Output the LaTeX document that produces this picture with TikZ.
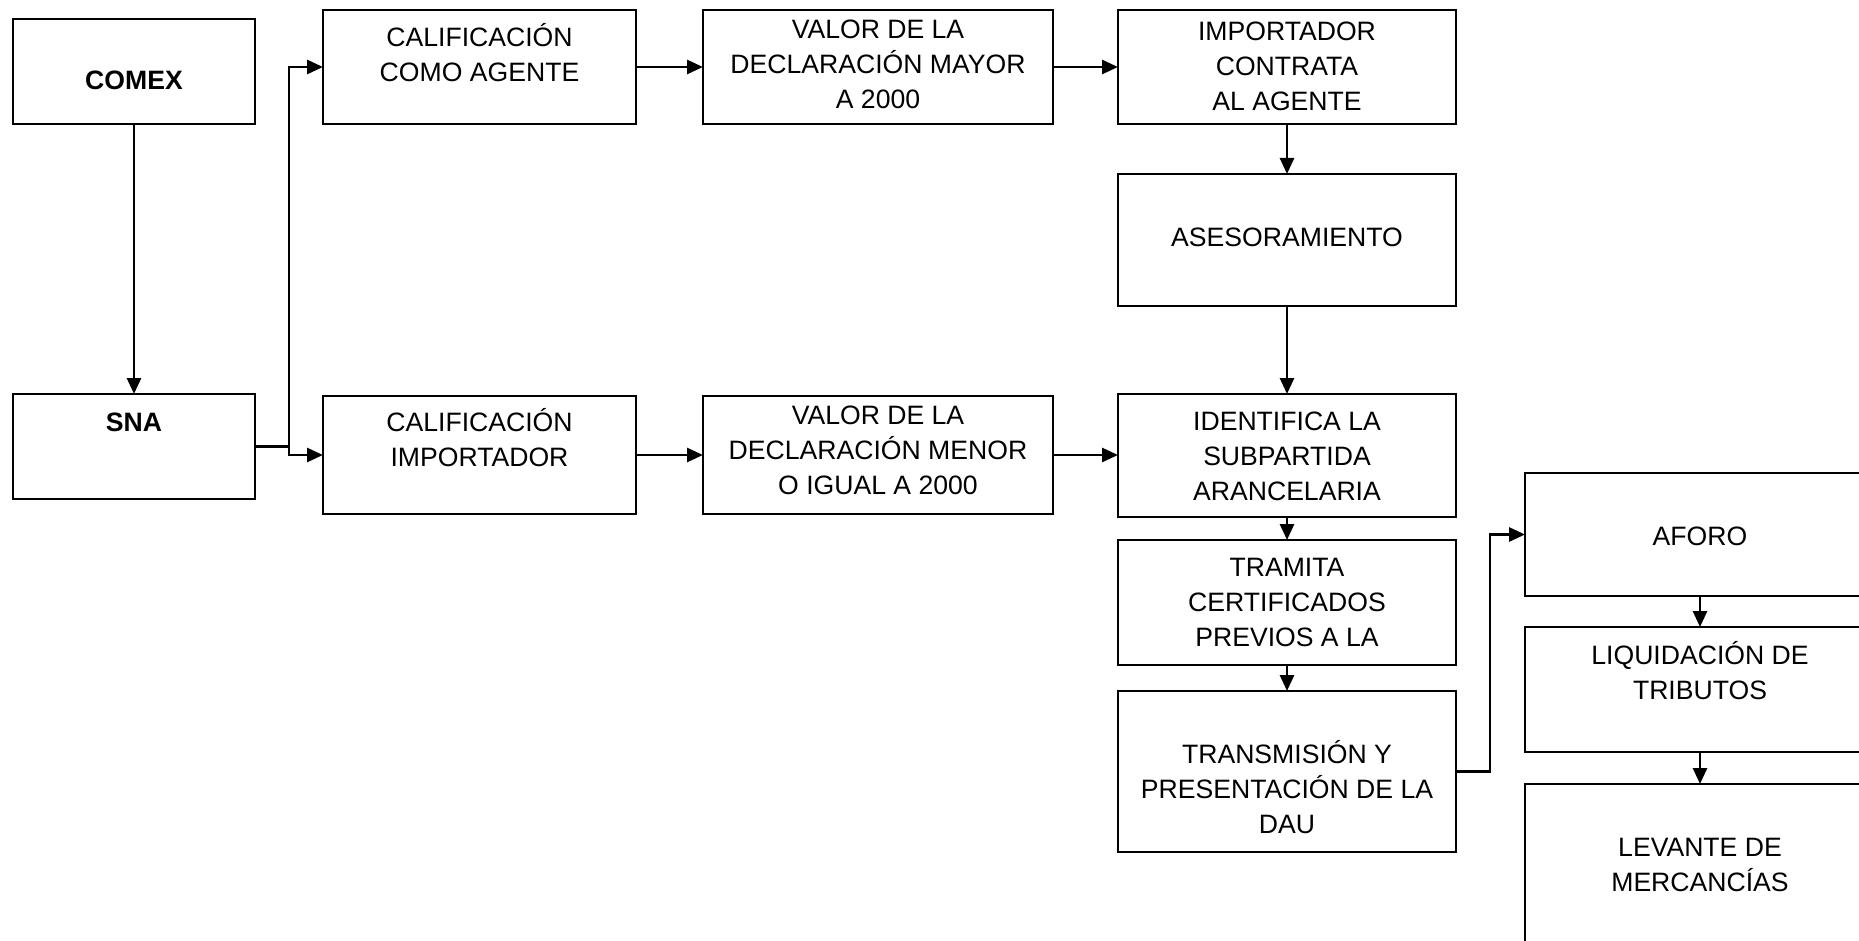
\documentclass[tikz,border=0pt]{standalone}
\usepackage{fontspec}
\setmainfont{Liberation Sans}
\usetikzlibrary{arrows.meta}
\newcommand\tstrut{\rule{0pt}{26pt}}
\tikzset{
  box/.style={draw=black, line width=2.7pt, inner sep=0pt, outer sep=0pt, rectangle},
  lbl/.style={font=\fontsize{26.6}{35}\selectfont, align=center, anchor=north, inner sep=0pt},
  arr/.style={line width=2.8pt, -{Triangle[length=16pt,width=14pt]}},
}
\newcommand\bx[5]{% name, x1, y1, x2, y2
  \node[box, minimum width={#4-#2}, minimum height={#5-#3}] (#1) at ({(#2+#4)/2},{(#3+#5)/2}) {};}
\begin{document}
\begin{tikzpicture}[x=1pt,y=-1pt]
\useasboundingbox (0,0) rectangle (1859,941);
\clip (0,0) rectangle (1859,941);
\fill[white] (0,0) rectangle (1859,941);
% boxes
\bx{comex}{13}{19}{255}{124}
\bx{sna}{13}{394}{255}{499}
\bx{califa}{323}{10}{636}{124}
\bx{califi}{323}{396}{636}{514}
\bx{vmay}{703}{10}{1053}{124}
\bx{vmen}{703}{396}{1053}{514}
\bx{imp}{1118}{10}{1456}{124}
\bx{ases}{1118}{174}{1456}{306}
\bx{ident}{1118}{394}{1456}{517}
\bx{tram}{1118}{540}{1456}{665}
\bx{trans}{1118}{691}{1456}{852}
\bx{aforo}{1525}{473}{1875}{596}
\bx{liq}{1525}{627}{1875}{752}
\bx{lev}{1525}{784}{1875}{980}
% texts (north = baseline - 26)
\node[lbl] (tcomex) at (134,63) {\tstrut\textbf{COMEX}};
\node[lbl] (tsna) at (134,405) {\tstrut\textbf{SNA}};
\node[lbl] (tcalifa) at (479.5,20) {\tstrut CALIFICACIÓN\\COMO AGENTE};
\node[lbl] (tcalifi) at (479.5,405) {\tstrut CALIFICACIÓN\\IMPORTADOR};
\node[lbl] (tvmay) at (878,12) {\tstrut VALOR DE LA\\DECLARACIÓN MAYOR\\A 2000};
\node[lbl] (tvmen) at (878,398) {\tstrut VALOR DE LA\\DECLARACIÓN MENOR\\O IGUAL A 2000};
\node[lbl] (timp) at (1287,14) {\tstrut IMPORTADOR\\CONTRATA\\AL AGENTE};
\node[lbl] (tases) at (1287,220) {\tstrut ASESORAMIENTO};
\node[lbl] (tident) at (1287,404) {\tstrut IDENTIFICA LA\\SUBPARTIDA\\ARANCELARIA};
\node[lbl] (ttram) at (1287,550) {\tstrut TRAMITA\\CERTIFICADOS\\PREVIOS A LA};
\node[lbl] (ttrans) at (1287,737) {\tstrut TRANSMISIÓN Y\\PRESENTACIÓN DE LA\\DAU};
\node[lbl] (taforo) at (1700,519) {\tstrut AFORO};
\node[lbl] (tliq) at (1700,638) {\tstrut LIQUIDACIÓN DE\\TRIBUTOS};
\node[lbl] (tlev) at (1700,830) {\tstrut LEVANTE DE\\MERCANCÍAS};
% connectors
\draw[arr] (comex) -- (sna);
\coordinate (j) at (289,446.5);
\draw[line width=2.8pt] (sna.east) -- (j);
\draw[arr] (j) |- (califa.west);
\draw[arr] (j) |- (califi.west);
\draw[arr] (califa) -- (vmay);
\draw[arr] (califi) -- (vmen);
\draw[arr] (vmay) -- (imp);
\draw[arr] (vmen.east) -- (vmen.east -| ident.west);
\draw[arr] (imp) -- (ases);
\draw[arr] (ases) -- (ident);
\draw[arr] (ident) -- (tram);
\draw[arr] (tram) -- (trans);
\coordinate (k) at (1490,771.5);
\draw[arr] (trans.east) -- (k) |- (aforo.west);
\draw[arr] (aforo) -- (liq);
\draw[arr] (liq) -- (lev);
\end{tikzpicture}
\end{document}
